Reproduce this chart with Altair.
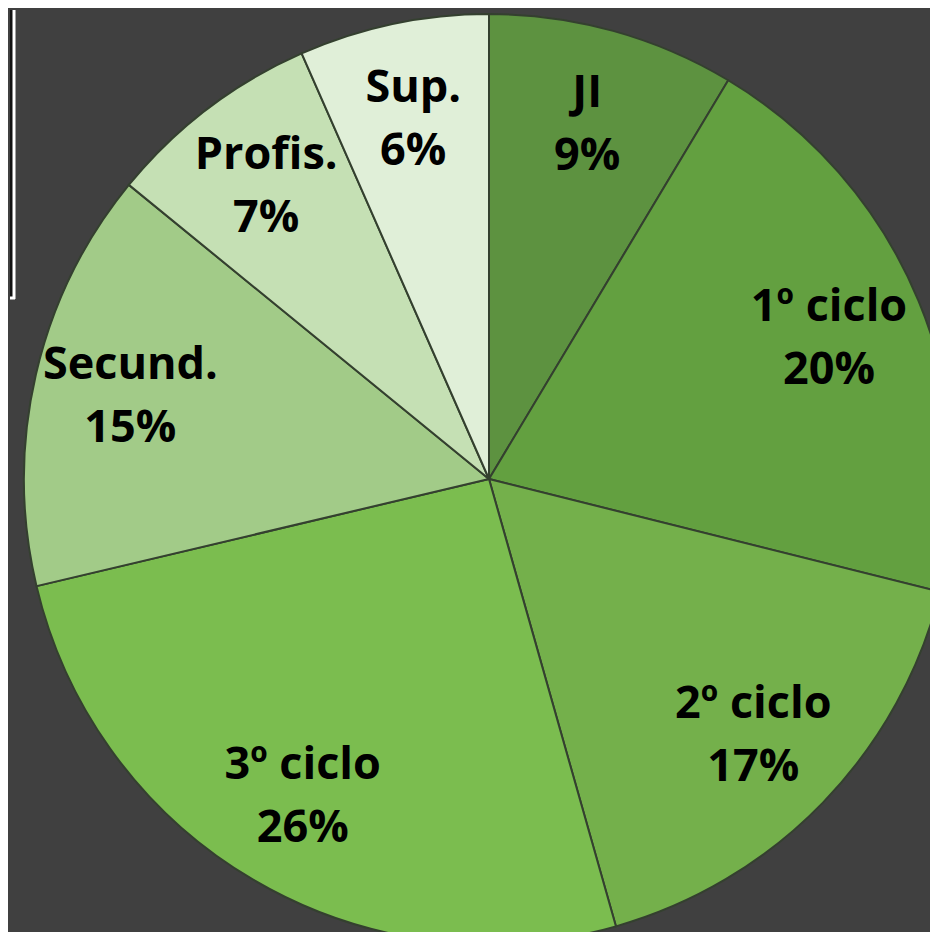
import altair as alt
import pandas as pd

categories = ["JI", "1º ciclo", "2º ciclo", "3º ciclo", "Secund.", "Profis.", "Sup."]
shares = [8.6, 20.3, 16.7, 25.7, 14.6, 7.5, 6.6]
pct_labels = ["9%", "20%", "17%", "26%", "15%", "7%", "6%"]
colors = ["#5d9240", "#63a040", "#74b04b", "#7bbd4f", "#a2cb88", "#c5e0b4", "#e0efd8"]

df = pd.DataFrame({
    "cat": categories,
    "share": shares,
    "idx": list(range(len(categories))),
    "label": [c + "\n" + p for c, p in zip(categories, pct_labels)],
})

CX, CY = 479, 469

base = alt.Chart(df).encode(
    theta=alt.Theta("share:Q", stack=True),
    order=alt.Order("idx:Q", sort="ascending"),
)

pie = base.mark_arc(radius=465, stroke="#34402f", strokeWidth=2).encode(
    color=alt.Color("cat:N", sort=None,
                    scale=alt.Scale(domain=categories, range=colors),
                    legend=None),
    x=alt.value(CX),
    y=alt.value(CY),
)

labels = base.mark_text(
    radius=368, font="Open Sans", fontSize=45, fontWeight="bold",
    color="#000000", lineBreak="\n", lineHeight=63, dy=-31,
    align="center", baseline="middle",
).encode(
    text="label:N",
    x=alt.value(CX),
    y=alt.value(CY),
)

frame_df = pd.DataFrame({"k": [0]})
frame_black = alt.Chart(frame_df).mark_rect(color="#111111").encode(
    x=alt.value(0), x2=alt.value(3), y=alt.value(0), y2=alt.value(288)
)
frame_white_v = alt.Chart(frame_df).mark_rule(color="#ffffff", strokeWidth=3).encode(
    x=alt.value(4), y=alt.value(0), y2=alt.value(289)
)
frame_white_h = alt.Chart(frame_df).mark_rule(color="#ffffff", strokeWidth=3).encode(
    x=alt.value(0), x2=alt.value(5), y=alt.value(288)
)

chart = alt.layer(pie, labels, frame_black, frame_white_v, frame_white_h).properties(
    width=922, height=924,
    autosize=alt.AutoSizeParams(type="fit", contains="padding"),
    padding=0,
    background="#404040",
).configure_view(stroke=None)

chart.save("out.html", embed_options={"renderer": "svg", "actions": False})
